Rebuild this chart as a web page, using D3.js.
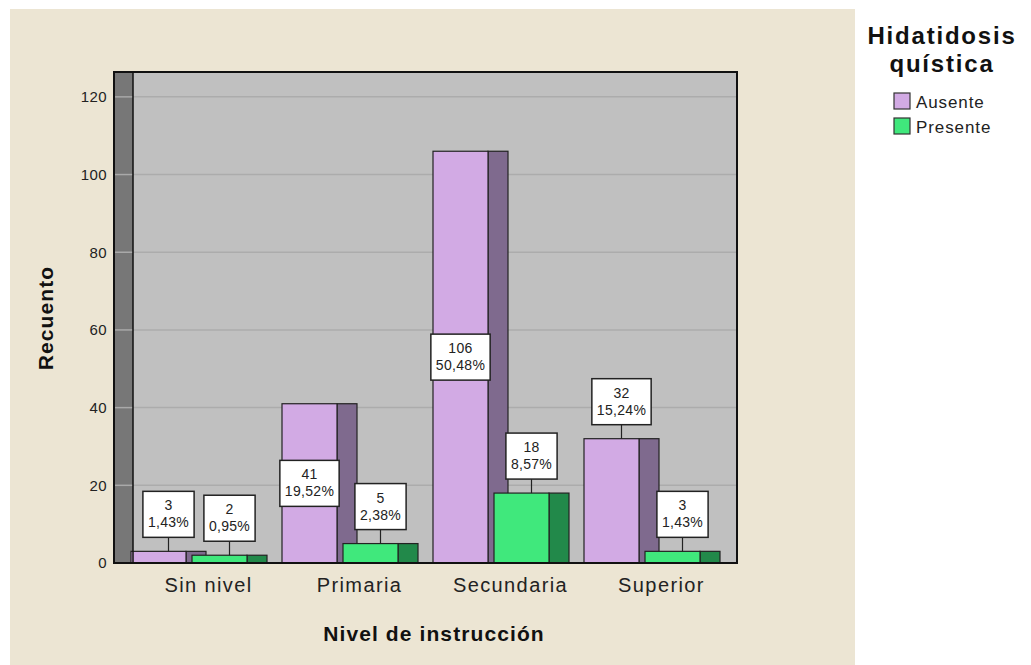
<!DOCTYPE html>
<html>
<head>
<meta charset="utf-8">
<script src="https://cdn.jsdelivr.net/npm/d3@7"></script>
<style>
  body { margin: 0; background: #fff; }
  text { font-family: "Liberation Sans", Arial, sans-serif; }
</style>
</head>
<body>
<div class="chart"></div>
<script>
// data
var categories = ["Sin nivel", "Primaria", "Secundaria", "Superior"];
var series = ["Ausente", "Presente"];
var ausente = [3, 41, 106, 32];
var presente = [2, 5, 18, 3];
var pctAusente = ["1,43%", "19,52%", "50,48%", "15,24%"];
var pctPresente = ["0,95%", "2,38%", "8,57%", "1,43%"];
var yTicks = [0, 20, 40, 60, 80, 100, 120];

var width = 1031, height = 665;
var margin = {top: 72, left: 133, right: 737, bottom: 563};
var wallW = 19;

var frontCol = {Ausente: "#d2aae4", Presente: "#40e87c"};
var sideCol = {Ausente: "#7f6a8e", Presente: "#22894a"};

var svg = d3.select(".chart").append("svg")
  .attr("width", width)
  .attr("height", height);

// beige panel
svg.append("rect")
  .attr("x", 10).attr("y", 9)
  .attr("width", 845).attr("height", height - 9)
  .attr("fill", "#ece5d3");

var x = d3.scaleBand()
  .domain(categories)
  .range([margin.left, margin.right]);

var y = d3.scaleLinear()
  .domain([0, 126.4])
  .range([margin.bottom, margin.top]);

// plot background + wall
svg.append("rect")
  .attr("x", margin.left).attr("y", margin.top)
  .attr("width", margin.right - margin.left)
  .attr("height", margin.bottom - margin.top)
  .attr("fill", "#c0c0c0");

svg.append("rect")
  .attr("x", margin.left - wallW).attr("y", margin.top)
  .attr("width", wallW)
  .attr("height", margin.bottom - margin.top)
  .attr("fill", "#777777");

// gridlines
svg.selectAll(".grid")
  .data(yTicks.filter(function(d) { return d > 0; }))
  .enter().append("line")
    .attr("x1", margin.left).attr("x2", margin.right)
    .attr("y1", function(d) { return y(d); })
    .attr("y2", function(d) { return y(d); })
    .attr("stroke", "#acacac").attr("stroke-width", 1.5);

svg.selectAll(".wallgrid")
  .data(yTicks)
  .enter().append("line")
    .attr("x1", margin.left - wallW).attr("x2", margin.left)
    .attr("y1", function(d) { return y(d); })
    .attr("y2", function(d) { return y(d); })
    .attr("stroke", "#a9a9a9").attr("stroke-width", 1.5);

// y axis labels
var yAxis = d3.axisLeft(y).tickValues(yTicks).tickSize(0).tickPadding(7);
var gy = svg.append("g")
  .attr("transform", "translate(" + (margin.left - wallW) + ",0)")
  .call(yAxis);
gy.select(".domain").remove();
gy.selectAll("text")
  .style("font-size", "15px")
  .style("letter-spacing", "0.4px")
  .style("font-family", "Liberation Sans, Arial, sans-serif")
  .attr("fill", "#222");

// bars
var frontW = 55, sideW = 20, step = 61;
var rows = [];
categories.forEach(function(c, i) {
  rows.push({cat: c, s: "Ausente", v: ausente[i], p: pctAusente[i], k: 0});
  rows.push({cat: c, s: "Presente", v: presente[i], p: pctPresente[i], k: 1});
});

function bx(d) { return x(d.cat) - 2 + d.k * step; }

var bars = svg.selectAll(".bar").data(rows).enter().append("g");

bars.append("rect")
  .attr("x", function(d) { return bx(d) + frontW; })
  .attr("y", function(d) { return y(d.v); })
  .attr("width", sideW)
  .attr("height", function(d) { return y(0) - y(d.v); })
  .attr("fill", function(d) { return sideCol[d.s]; })
  .attr("stroke", "#222").attr("stroke-width", 1.2);

bars.append("rect")
  .attr("x", function(d) { return bx(d); })
  .attr("y", function(d) { return y(d.v); })
  .attr("width", frontW)
  .attr("height", function(d) { return y(0) - y(d.v); })
  .attr("fill", function(d) { return frontCol[d.s]; })
  .attr("stroke", "#222").attr("stroke-width", 1.2);

// frame
svg.append("path")
  .attr("d", "M" + (margin.left - wallW) + "," + margin.bottom +
             "V" + margin.top + "H" + margin.right + "V" + margin.bottom + "Z")
  .attr("fill", "none").attr("stroke", "#111").attr("stroke-width", 2);
svg.append("line")
  .attr("x1", margin.left).attr("x2", margin.left)
  .attr("y1", margin.top).attr("y2", margin.bottom)
  .attr("stroke", "#111").attr("stroke-width", 1.5);

// data labels
var boxH = 46, gap = 14;
rows.forEach(function(d) {
  var top = y(d.v);
  var barH = y(0) - top;
  var inside = barH > 140;
  var cx, by;
  if (inside) {
    cx = bx(d) + frontW / 2;
    by = (top + y(0)) / 2 - boxH / 2;
  } else {
    cx = bx(d) + (frontW + sideW) / 2;
    by = top - gap - boxH;
  }
  var g = svg.append("g");
  if (!inside) {
    g.append("line")
      .attr("x1", cx).attr("x2", cx)
      .attr("y1", by + boxH).attr("y2", top)
      .attr("stroke", "#222").attr("stroke-width", 1.2);
  }
  var box = g.append("rect");
  var t1 = g.append("text")
    .attr("x", cx).attr("y", by + 19)
    .attr("text-anchor", "middle")
    .style("font-size", "14px").style("letter-spacing", "0.3px").attr("fill", "#222")
    .text(d.v);
  var t2 = g.append("text")
    .attr("x", cx).attr("y", by + 36)
    .attr("text-anchor", "middle")
    .style("font-size", "14px").style("letter-spacing", "0.3px").attr("fill", "#222")
    .text(d.p);
  var bw = Math.max(t1.node().getComputedTextLength(), t2.node().getComputedTextLength()) + 10;
  box.attr("x", cx - bw / 2).attr("y", by)
    .attr("width", bw).attr("height", boxH)
    .attr("fill", "#fff").attr("stroke", "#222").attr("stroke-width", 1.5);
});

// x axis labels
svg.selectAll(".xlab").data(categories).enter().append("text")
  .attr("x", function(d) { return x(d) + x.bandwidth() / 2; })
  .attr("y", 592)
  .attr("text-anchor", "middle")
  .style("font-size", "20px").style("letter-spacing", "1.4px").attr("fill", "#222")
  .text(function(d) { return d; });

// axis titles
svg.append("text")
  .attr("x", 434).attr("y", 641)
  .attr("text-anchor", "middle")
  .style("font-size", "21px").style("letter-spacing", "1.1px")
  .style("font-weight", "bold").attr("fill", "#111")
  .text("Nivel de instrucción");

svg.append("text")
  .attr("transform", "translate(53,318) rotate(-90)")
  .attr("text-anchor", "middle")
  .style("font-size", "21px").style("letter-spacing", "1.1px")
  .style("font-weight", "bold").attr("fill", "#111")
  .text("Recuento");

// legend
svg.append("text")
  .attr("x", 942).attr("y", 44)
  .attr("text-anchor", "middle")
  .style("font-size", "24px").style("letter-spacing", "1.8px")
  .style("font-weight", "bold").attr("fill", "#111")
  .text("Hidatidosis");
svg.append("text")
  .attr("x", 942).attr("y", 72)
  .attr("text-anchor", "middle")
  .style("font-size", "24px").style("letter-spacing", "1.8px")
  .style("font-weight", "bold").attr("fill", "#111")
  .text("quística");

var leg = svg.selectAll(".leg").data(series).enter().append("g")
  .attr("transform", function(d, i) { return "translate(894," + (93 + i * 25) + ")"; });
leg.append("rect")
  .attr("width", 16).attr("height", 16)
  .attr("fill", function(d) { return frontCol[d]; })
  .attr("stroke", "#333").attr("stroke-width", 1.2);
leg.append("text")
  .attr("x", 22).attr("y", 15)
  .style("font-size", "17px").style("letter-spacing", "0.9px").attr("fill", "#222")
  .text(function(d) { return d; });
</script>
</body>
</html>
